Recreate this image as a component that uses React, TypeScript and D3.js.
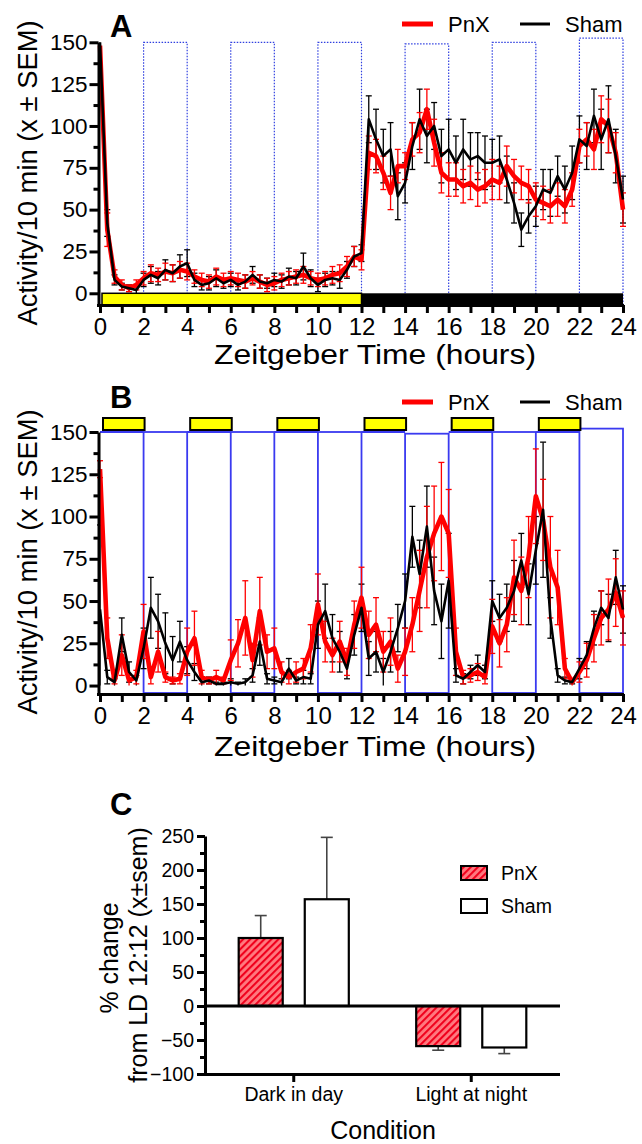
import React, { useRef, useEffect } from 'react';
import * as d3 from 'd3';

// 20 min bins across the 24 h Zeitgeber day
const binHours = d3.range(73).map(i => i / 3);

// Panel A: LD 12:12
const pnxA = [148, 38, 10, 5, 3, 5, 9, 12, 11, 13,
  12, 14, 13, 10, 8, 7, 10, 8, 9, 8,
  7, 9, 7, 5, 6, 8, 9, 10, 11, 9,
  8, 9, 11, 12, 16, 22, 20, 84, 82, 72,
  60, 76, 76, 92, 96, 110, 90, 72, 68, 68,
  64, 66, 62, 64, 68, 66, 76, 70, 66, 64,
  56, 54, 52, 56, 52, 62, 88, 92, 86, 104,
  100, 84, 50];
const pnxSemA = [0, 10, 4, 3, 2, 3, 4, 5, 4, 5, 5, 5, 5, 4, 4, 4, 5, 4, 4, 4, 4, 4, 4, 4, 4, 4, 4, 4, 5, 4, 4, 4, 5, 5, 6, 6, 6,
  10, 10, 10, 10, 10, 8, 10, 12, 12, 14, 12, 10, 10, 10, 10, 10, 10, 12, 10, 12, 10, 10, 10, 10, 10, 10, 10, 10, 10, 10, 10, 12, 14, 16, 12, 10];
const shamA = [150, 42, 8, 4, 3, 2, 8, 11, 9, 14,
  12, 16, 18, 8, 5, 6, 9, 6, 8, 5,
  7, 11, 7, 6, 8, 7, 10, 9, 16, 9,
  5, 8, 9, 8, 14, 22, 24, 104, 92, 82,
  86, 58, 66, 88, 104, 94, 100, 82, 86, 78,
  86, 80, 82, 78, 78, 80, 68, 54, 38, 46,
  52, 62, 60, 70, 62, 72, 92, 88, 106, 92,
  104, 82, 56];
const shamSemA = [0, 8, 3, 2, 2, 2, 4, 5, 4, 6, 5, 7, 8, 4, 3, 4, 5, 3, 4, 3, 4, 5, 4, 3, 4, 4, 5, 4, 8, 5, 4, 4, 4, 5, 5, 6, 5,
  14, 18, 16, 16, 14, 12, 14, 18, 16, 14, 16, 18, 16, 18, 16, 14, 16, 14, 14, 14, 12, 10, 10, 12, 12, 14, 12, 14, 16, 14, 14, 16, 18, 20, 16, 14];

// Panel B: LD 2:2
const pnxB = [128, 28, 3, 18, 3, 5, 32, 5, 20, 5,
  3, 4, 20, 28, 5, 3, 5, 3, 15, 25,
  40, 15, 44, 20, 22, 8, 5, 8, 10, 22,
  48, 26, 18, 26, 14, 36, 52, 30, 36, 20,
  26, 10, 20, 36, 56, 76, 90, 100, 90, 20,
  5, 6, 8, 5, 35, 25, 36, 64, 56, 76,
  112, 98, 70, 58, 10, 2, 8, 15, 28, 40,
  45, 55, 40];
const pnxSemB = [5, 12, 2, 12, 3, 4, 16, 4, 12, 3, 2, 3, 14, 16, 4, 2, 4, 2, 12, 14,
  22, 10, 20, 10, 12, 6, 4, 6, 6, 14, 18, 12, 10, 12, 8, 14, 18, 14, 16, 12,
  14, 8, 14, 16, 24, 30, 28, 32, 26, 14, 4, 4, 5, 4, 16, 14, 16, 22, 20, 24,
  28, 24, 30, 22, 6, 2, 6, 10, 14, 16, 18, 20, 16];
const shamB = [45, 5, 2, 30, 8, 3, 22, 46, 38, 25,
  15, 26, 15, 8, 2, 3, 1, 1, 2, 1,
  2, 6, 26, 4, 3, 2, 10, 3, 5, 4,
  36, 44, 28, 20, 10, 30, 46, 16, 20, 8,
  20, 34, 50, 88, 66, 94, 56, 38, 62, 6,
  4, 8, 12, 8, 50, 40, 46, 56, 74, 54,
  80, 104, 40, 6, 3, 2, 10, 18, 34, 46,
  40, 64, 45];
const shamSemB = [50, 4, 2, 10, 6, 3, 12, 18, 16, 18, 14, 12, 8, 5, 2, 2, 1, 1, 2, 1,
  2, 4, 14, 3, 2, 2, 6, 2, 4, 3, 14, 16, 14, 12, 6, 12, 14, 10, 12, 8,
  12, 14, 16, 18, 20, 24, 20, 22, 28, 4, 3, 4, 6, 4, 12, 14, 14, 18, 16, 18,
  20, 40, 12, 4, 2, 1, 6, 8, 10, 10, 14, 16, 14];

const hourTicks = d3.range(0, 25, 2);
const hourMinor = d3.range(1, 24, 2);
const activityTicks = [0, 25, 50, 75, 100, 125, 150];
const activityMinor = [12.5, 37.5, 62.5, 87.5, 112.5, 137.5];

const darkBoxes = [[2, 4], [6, 8], [10, 12], [14, 16], [18, 20], [22, 24]];
const boxTopsA = [150, 150, 150, 149, 150, 152.5];
const boxTopsB = [150, 150, 150, 149, 150, 152];
const lightA = [0, 12];
const darkA = [12, 24];
const lightB = [[0, 2], [4, 6], [8, 10], [12, 14], [16, 18], [20, 22]];

// Panel C
const conditions = ['Dark in day', 'Light at night'];
const groups = ['PnX', 'Sham'];
const pnxChange = [100, -59];
const pnxChangeSem = [33, 6];
const shamChange = [157, -61];
const shamChangeSem = [91, 9];
const changeTicks = d3.range(-100, 251, 50);
const changeMinor = d3.range(-75, 250, 50);

const FONT = "'Liberation Sans', Arial, Helvetica, sans-serif";

function App() {
    const ref = useRef<SVGSVGElement>(null);
    useEffect(() => {
        const svg = d3.select(ref.current);
        svg.selectAll('*').remove();
        svg.attr('font-family', FONT);

        const defs = svg.append('defs');
        const hatch = defs.append('pattern')
            .attr('id', 'hatch')
            .attr('patternUnits', 'userSpaceOnUse')
            .attr('width', 5).attr('height', 5)
            .attr('patternTransform', 'rotate(45)');
        hatch.append('rect').attr('width', 5).attr('height', 5).attr('fill', '#ff7a80');
        hatch.append('line').attr('x1', 1).attr('x2', 1).attr('y1', 0).attr('y2', 5)
            .attr('stroke', '#f0001c').attr('stroke-width', 2.2);

        const x = d3.scaleLinear().domain([0, 24]).range([100, 623]);

        function styleAxis(ax, size) {
            ax.attr('font-family', null).attr('font-size', size);
            ax.select('.domain').attr('stroke-width', 3);
            ax.selectAll('.tick line').attr('stroke-width', 3);
            ax.selectAll('.tick text').attr('fill', '#000');
        }

        function series(g, y, vals, sem, color, width) {
            const eb = g.append('g').attr('stroke', color).attr('stroke-width', 1.3);
            const pts = binHours.map((t, i) => ({ t, v: vals[i], s: sem[i] })).filter(d => d.s > 0);
            eb.selectAll('.eb').data(pts).enter().append('line')
                .attr('x1', d => x(d.t)).attr('x2', d => x(d.t))
                .attr('y1', d => y(Math.max(0, d.v - d.s))).attr('y2', d => y(d.v + d.s));
            eb.selectAll('.capHi').data(pts).enter().append('line')
                .attr('x1', d => x(d.t) - 3).attr('x2', d => x(d.t) + 3)
                .attr('y1', d => y(d.v + d.s)).attr('y2', d => y(d.v + d.s));
            eb.selectAll('.capLo').data(pts.filter(d => d.v - d.s > 0)).enter().append('line')
                .attr('x1', d => x(d.t) - 3).attr('x2', d => x(d.t) + 3)
                .attr('y1', d => y(d.v - d.s)).attr('y2', d => y(d.v - d.s));
            return () => g.append('path')
                .attr('d', d3.line<number>().x((d, i) => x(binHours[i])).y(d => y(d))(vals))
                .attr('fill', 'none').attr('stroke', color).attr('stroke-width', width)
                .attr('stroke-linejoin', 'round');
        }

        function timePanel(cfg) {
            const g = svg.append('g');
            const y = d3.scaleLinear().domain(cfg.domain).range(cfg.range);
            const axisY = cfg.range[0];
            const axisX = x(0) - 1.5;

            cfg.markers(g, y, axisY);

            const drawBlack = series(g, y, cfg.black, cfg.blackSem, '#000', 2.6);
            const drawRed = series(g, y, cfg.red, cfg.redSem, '#ff0000', 4.6);
            drawRed();
            drawBlack();

            if (cfg.overlay) cfg.overlay(g, y, axisY);

            const ya = g.append('g').attr('transform', `translate(${axisX},0)`)
                .call(d3.axisLeft(y).tickValues(activityTicks).tickSize(9).tickSizeOuter(0).tickPadding(2));
            styleAxis(ya, 22.5);
            const ym = g.append('g').attr('transform', `translate(${axisX},0)`)
                .call(d3.axisLeft(y).tickValues(activityMinor).tickSize(5).tickSizeOuter(0).tickFormat(() => ''));
            ym.select('.domain').remove();
            ym.selectAll('.tick line').attr('stroke-width', 3);

            const xa = g.append('g').attr('transform', `translate(0,${axisY})`)
                .call(d3.axisBottom(x).tickValues(hourTicks).tickSize(8).tickSizeOuter(0).tickPadding(5));
            styleAxis(xa, 24);
            xa.select('.domain').attr('d', `M${axisX - 1.5},0.5H${x(24) + 1}`);
            const xm = g.append('g').attr('transform', `translate(0,${axisY})`)
                .call(d3.axisBottom(x).tickValues(hourMinor).tickSize(8).tickSizeOuter(0).tickFormat(() => ''));
            xm.select('.domain').remove();
            xm.selectAll('.tick line').attr('stroke-width', 3);

            g.append('text').attr('x', 375).attr('y', cfg.titleY)
                .attr('text-anchor', 'middle').attr('font-size', 28)
                .attr('textLength', 322).attr('lengthAdjust', 'spacingAndGlyphs')
                .text('Zeitgeber Time (hours)');
            g.append('text').attr('transform', `translate(37,${cfg.labelY}) rotate(-90)`)
                .attr('text-anchor', 'middle').attr('font-size', 27)
                .attr('textLength', 305).attr('lengthAdjust', 'spacingAndGlyphs')
                .text('Activity/10 min (x \u00b1 SEM)');
            g.append('text').attr('x', 110).attr('y', cfg.letterY)
                .attr('font-size', 31).attr('font-weight', 'bold').text(cfg.letter);

            const lg = g.append('g').attr('transform', `translate(0,${cfg.legendY})`);
            lg.append('line').attr('x1', 402).attr('x2', 433).attr('y1', -8).attr('y2', -8)
                .attr('stroke', '#ff0000').attr('stroke-width', 5);
            lg.append('text').attr('x', 448).attr('font-size', 22).text('PnX');
            lg.append('line').attr('x1', 520).attr('x2', 550).attr('y1', -8).attr('y2', -8)
                .attr('stroke', '#000').attr('stroke-width', 3);
            lg.append('text').attr('x', 565).attr('font-size', 22).text('Sham');
        }

        // Panel A
        timePanel({
            domain: [-7, 150], range: [305, 42.3],
            red: pnxA, redSem: pnxSemA, black: shamA, blackSem: shamSemA,
            letter: 'A', letterY: 37, legendY: 32, titleY: 364, labelY: 173,
            markers: (g, y, axisY) => {
                g.append('g').selectAll('rect').data(darkBoxes).enter().append('rect')
                    .attr('x', d => x(d[0])).attr('width', d => x(d[1]) - x(d[0]))
                    .attr('y', (d, i) => y(boxTopsA[i])).attr('height', (d, i) => axisY - y(boxTopsA[i]))
                    .attr('fill', 'none').attr('stroke', '#3040e0').attr('stroke-width', 1.2)
                    .attr('stroke-dasharray', '1.5,1.5');
                g.append('rect').attr('x', x(lightA[0]) + 2).attr('width', x(lightA[1]) - x(lightA[0]) - 2)
                    .attr('y', y(0)).attr('height', axisY - y(0))
                    .attr('fill', '#ffff00').attr('stroke', '#000').attr('stroke-width', 1.5);
                g.append('rect').attr('x', x(darkA[0])).attr('width', x(darkA[1]) - x(darkA[0]))
                    .attr('y', y(0)).attr('height', axisY - y(0)).attr('fill', '#000');
            }
        });

        // Panel B
        timePanel({
            domain: [-5, 150], range: [694, 432],
            red: pnxB, redSem: pnxSemB, black: shamB, blackSem: shamSemB,
            letter: 'B', letterY: 408, legendY: 410, titleY: 756, labelY: 562,
            markers: (g, y, axisY) => {
                g.append('g').selectAll('rect').data(darkBoxes).enter().append('rect')
                    .attr('x', d => x(d[0])).attr('width', d => x(d[1]) - x(d[0]))
                    .attr('y', (d, i) => y(boxTopsB[i])).attr('height', (d, i) => axisY - 1 - y(boxTopsB[i]))
                    .attr('fill', 'none').attr('stroke', '#3a3af0').attr('stroke-width', 1.8);
                g.append('g').selectAll('line').data(lightB).enter().append('line')
                    .attr('x1', d => x(d[0])).attr('x2', d => x(d[1]))
                    .attr('y1', y(150)).attr('y2', y(150))
                    .attr('stroke', '#3a3af0').attr('stroke-width', 1.8);
            },
            overlay: (g, y) => {
                g.append('g').selectAll('rect').data(lightB).enter().append('rect')
                    .attr('x', d => x(d[0]) + 3).attr('width', d => x(d[1]) - x(d[0]) - 2)
                    .attr('y', y(150) - 14).attr('height', 12)
                    .attr('fill', '#ffff00').attr('stroke', '#000').attr('stroke-width', 2);
            }
        });

        // Panel C
        const gc = svg.append('g');
        const yc = d3.scaleLinear().domain([-100, 250]).range([1074, 836]);
        const xc = d3.scaleBand().domain(conditions).range([205, 560]);
        const xg = d3.scaleBand().domain(groups).range([0, xc.bandwidth()])
            .paddingInner(1 / 3).paddingOuter(0.51);
        const barData = conditions.flatMap((c, i) => [
            { c, grp: 'PnX', v: pnxChange[i], s: pnxChangeSem[i] },
            { c, grp: 'Sham', v: shamChange[i], s: shamChangeSem[i] },
        ]);
        const bx = d => xc(d.c) + xg(d.grp);

        gc.append('g').attr('stroke', '#444').attr('stroke-width', 1.6)
            .selectAll('g').data(barData).enter().append('g')
            .each(function (d) {
                const cx = bx(d) + xg.bandwidth() / 2;
                const end = d.v + Math.sign(d.v) * d.s;
                const sel = d3.select(this);
                sel.append('line').attr('x1', cx).attr('x2', cx).attr('y1', yc(d.v)).attr('y2', yc(end));
                sel.append('line').attr('x1', cx - 6).attr('x2', cx + 6).attr('y1', yc(end)).attr('y2', yc(end));
            });

        gc.append('g').selectAll('rect').data(barData).enter().append('rect')
            .attr('x', bx).attr('width', xg.bandwidth())
            .attr('y', d => Math.min(yc(d.v), yc(0)))
            .attr('height', d => Math.abs(yc(d.v) - yc(0)))
            .attr('fill', d => d.grp === 'PnX' ? 'url(#hatch)' : '#fff')
            .attr('stroke', '#000').attr('stroke-width', 2.2);

        gc.append('line').attr('x1', 205).attr('x2', 560).attr('y1', yc(0)).attr('y2', yc(0))
            .attr('stroke', '#000').attr('stroke-width', 3);

        const yca = gc.append('g').attr('transform', 'translate(205,0)')
            .call(d3.axisLeft(yc).tickValues(changeTicks).tickSize(8).tickSizeOuter(0).tickPadding(3));
        styleAxis(yca, 19.5);
        const ycm = gc.append('g').attr('transform', 'translate(205,0)')
            .call(d3.axisLeft(yc).tickValues(changeMinor).tickSize(5).tickSizeOuter(0).tickFormat(() => ''));
        ycm.select('.domain').remove();
        ycm.selectAll('.tick line').attr('stroke-width', 3);

        const xca = gc.append('g').attr('transform', 'translate(0,1074)')
            .call(d3.axisBottom(xc).tickSize(8).tickSizeOuter(0).tickPadding(5));
        styleAxis(xca, 19.5);
        xca.select('.domain').attr('d', 'M203.5,0.5H560');

        gc.append('text').attr('x', 383).attr('y', 1139).attr('text-anchor', 'middle')
            .attr('font-size', 25).text('Condition');
        gc.append('text').attr('transform', 'translate(118,958) rotate(-90)')
            .attr('text-anchor', 'middle').attr('font-size', 25).text('% change');
        gc.append('text').attr('transform', 'translate(147,955) rotate(-90)')
            .attr('text-anchor', 'middle').attr('font-size', 25).text('from LD 12:12 (x\u00b1sem)');
        gc.append('text').attr('x', 110).attr('y', 815)
            .attr('font-size', 31).attr('font-weight', 'bold').text('C');

        const lc = gc.append('g');
        groups.forEach((grp, i) => {
            lc.append('rect').attr('x', 461).attr('y', 866 + i * 33).attr('width', 26).attr('height', 14)
                .attr('fill', grp === 'PnX' ? 'url(#hatch)' : '#fff')
                .attr('stroke', '#000').attr('stroke-width', 2);
            lc.append('text').attr('x', 501).attr('y', 880 + i * 33).attr('font-size', 19.5).text(grp);
        });
    }, []);

    return (
        <svg ref={ref} width="642" height="1144"
            style={{ position: 'absolute', left: 0, top: 0, display: 'block', background: '#fff' }}></svg>
    );
}

export default App;
